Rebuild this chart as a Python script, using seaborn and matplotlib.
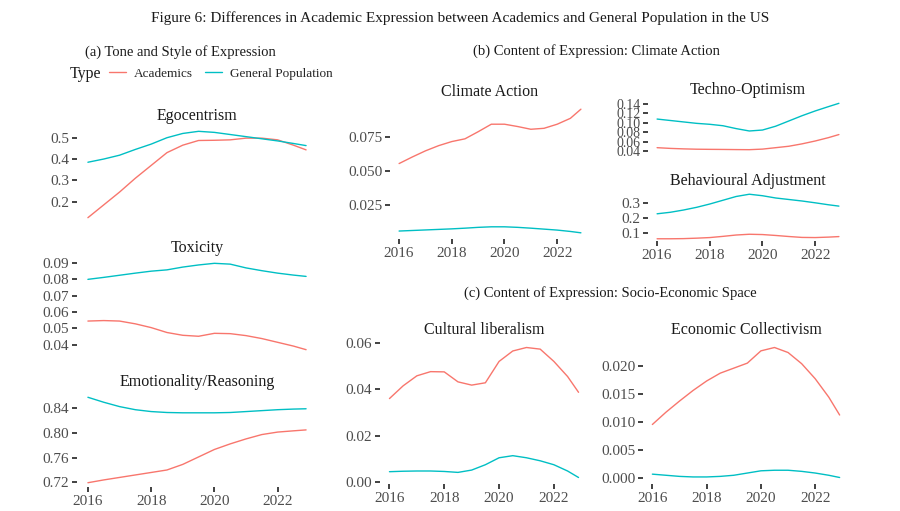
import numpy as np
import pandas as pd
import seaborn as sns
import matplotlib.pyplot as plt
from matplotlib.lines import Line2D
from matplotlib.ticker import FormatStrFormatter

# values at half-year steps (smoothed trends)
years = [2016, 2016.5, 2017, 2017.5, 2018, 2018.5, 2019, 2019.5,
         2020, 2020.5, 2021, 2021.5, 2022, 2022.5, 2022.9]

ego_acad = [0.125, 0.185, 0.245, 0.31, 0.37, 0.43, 0.465, 0.487,
            0.488, 0.49, 0.498, 0.498, 0.49, 0.465, 0.443]
ego_gen = [0.385, 0.40, 0.418, 0.445, 0.47, 0.50, 0.52, 0.53,
           0.525, 0.515, 0.505, 0.495, 0.485, 0.473, 0.463]

tox_acad = [0.0545, 0.0548, 0.0545, 0.0528, 0.0505, 0.0475, 0.0458, 0.0452,
            0.047, 0.0468, 0.0456, 0.0438, 0.0415, 0.0392, 0.037]
tox_gen = [0.080, 0.0812, 0.0825, 0.0838, 0.0850, 0.0858, 0.0875, 0.0888,
           0.0898, 0.0893, 0.0870, 0.0853, 0.0838, 0.0826, 0.0818]

emo_acad = [0.7195, 0.724, 0.728, 0.732, 0.736, 0.740, 0.749, 0.761,
            0.773, 0.782, 0.790, 0.797, 0.801, 0.803, 0.8045]
emo_gen = [0.857, 0.849, 0.842, 0.837, 0.834, 0.8325, 0.832, 0.832,
           0.832, 0.8325, 0.834, 0.8355, 0.837, 0.838, 0.8385]

clim_acad = [0.0557, 0.0605, 0.065, 0.0688, 0.0718, 0.0738, 0.079, 0.0845,
             0.0845, 0.0828, 0.0808, 0.0815, 0.0845, 0.0888, 0.0955]
clim_gen = [0.0063, 0.0067, 0.0071, 0.0075, 0.0079, 0.0084, 0.009, 0.0094,
            0.0094, 0.009, 0.0084, 0.0077, 0.007, 0.006, 0.005]

techno_acad = [0.048, 0.0465, 0.0455, 0.0448, 0.0445, 0.0443, 0.044, 0.0438,
               0.045, 0.048, 0.051, 0.056, 0.062, 0.069, 0.0755]
techno_gen = [0.108, 0.105, 0.102, 0.099, 0.097, 0.094, 0.088, 0.083,
              0.085, 0.093, 0.104, 0.115, 0.125, 0.134, 0.141]

behav_acad = [0.059, 0.059, 0.06, 0.063, 0.067, 0.075, 0.084, 0.089,
              0.087, 0.081, 0.074, 0.068, 0.067, 0.07, 0.0735]
behav_gen = [0.225, 0.235, 0.25, 0.268, 0.29, 0.315, 0.34, 0.355,
             0.345, 0.33, 0.32, 0.31, 0.298, 0.285, 0.276]

cult_acad = [0.036, 0.0415, 0.0458, 0.0476, 0.0475, 0.0432, 0.0418, 0.0428,
             0.052, 0.0565, 0.058, 0.0573, 0.052, 0.0455, 0.0387]
cult_gen = [0.0045, 0.0047, 0.0048, 0.0048, 0.0046, 0.0042, 0.0052, 0.0075,
            0.0105, 0.0114, 0.0105, 0.0092, 0.0075, 0.0048, 0.002]

econ_acad = [0.0096, 0.0118, 0.0138, 0.0157, 0.0174, 0.0188, 0.0197, 0.0206,
             0.0228, 0.0234, 0.0225, 0.0205, 0.0178, 0.0145, 0.0113]
econ_gen = [0.0007, 0.0005, 0.0003, 0.0002, 0.0002, 0.0003, 0.0005, 0.0009,
            0.0013, 0.0014, 0.0014, 0.0012, 0.0009, 0.0005, 0.0001]

types = ["Academics", "General Population"]
palette = {"Academics": "#F8766D", "General Population": "#00BFC4"}

sns.set_theme(style="white")
plt.rcParams["font.family"] = ["Liberation Serif", "DejaVu Serif"]

W, H = 900, 511
fig = plt.figure(figsize=(9, 5.11), dpi=100)
fig.patch.set_facecolor("white")


def add_px_axes(x0, y0, x1, y1):
    return fig.add_axes([x0 / W, 1 - y1 / H, (x1 - x0) / W, (y1 - y0) / H])


def long_frame(acad, gen):
    return pd.DataFrame({
        "Year": years * 2,
        "Value": acad + gen,
        "Type": ["Academics"] * len(years) + ["General Population"] * len(years),
    })


def facet(box, title, acad, gen, yticks, fmt, show_x, tick_size=11):
    ax = add_px_axes(*box)
    df = long_frame(acad, gen)
    sns.lineplot(data=df, x="Year", y="Value", hue="Type", palette=palette,
                 hue_order=types, linewidth=1.0, legend=False, ax=ax)
    span = years[-1] - years[0]
    ax.set_xlim(years[0] - 0.05 * span, years[-1] + 0.05 * span)
    lo, hi = df["Value"].min(), df["Value"].max()
    ax.set_ylim(lo - 0.05 * (hi - lo), hi + 0.05 * (hi - lo))
    ax.set_yticks(yticks)
    ax.yaxis.set_major_formatter(FormatStrFormatter(fmt))
    if show_x:
        ax.set_xticks([2016, 2018, 2020, 2022])
    else:
        ax.set_xticks([])
    ax.set_xlabel("")
    ax.set_ylabel("")
    for s in ax.spines.values():
        s.set_visible(False)
    ax.tick_params(axis="both", length=3.5, width=1.3, color="#333333",
                   labelcolor="#4d4d4d", labelsize=11, pad=2,
                   left=True, bottom=show_x)
    ax.tick_params(axis="y", labelsize=tick_size)
    ax.set_title(title, fontsize=11.5, color="#1a1a1a", pad=5)
    return ax


# (a) tone and style
facet((77, 127, 317, 222), "Egocentrism", ego_acad, ego_gen,
      [0.2, 0.3, 0.4, 0.5], "%.1f", False)
facet((77, 259, 317, 354), "Toxicity", tox_acad, tox_gen,
      [0.04, 0.05, 0.06, 0.07, 0.08, 0.09], "%.2f", False)
facet((77, 393, 317, 487), "Emotionality/Reasoning", emo_acad, emo_gen,
      [0.72, 0.76, 0.80, 0.84], "%.2f", True)

# (b) climate action
facet((390, 103, 590, 239), "Climate Action", clim_acad, clim_gen,
      [0.025, 0.050, 0.075], "%.3f", True)
# the reference squeezes these labels together; keep them slightly smaller
facet((648, 101, 848, 152), "Techno-Optimism", techno_acad, techno_gen,
      [0.04, 0.06, 0.08, 0.10, 0.12, 0.14], "%.2f", False, tick_size=10)
facet((648, 192, 848, 241), "Behavioural Adjustment", behav_acad, behav_gen,
      [0.1, 0.2, 0.3], "%.1f", True)

# (c) socio-economic space
facet((380, 341, 588, 484), "Cultural liberalism", cult_acad, cult_gen,
      [0.00, 0.02, 0.04, 0.06], "%.2f", True)
facet((643, 341, 849, 484), "Economic Collectivism", econ_acad, econ_gen,
      [0.000, 0.005, 0.010, 0.015, 0.020], "%.3f", True)

# headings
fig.text(460 / W, 1 - 18 / H,
         "Figure 6: Differences in Academic Expression between Academics and General Population in the US",
         ha="center", va="center", fontsize=11, color="#1a1a1a")
fig.text(180 / W, 1 - 52 / H, "(a) Tone and Style of Expression",
         ha="center", va="center", fontsize=10.5, color="#1a1a1a")
fig.text(596 / W, 1 - 51 / H, "(b) Content of Expression: Climate Action",
         ha="center", va="center", fontsize=10.5, color="#1a1a1a")
fig.text(610 / W, 1 - 293 / H, "(c) Content of Expression: Socio-Economic Space",
         ha="center", va="center", fontsize=10.5, color="#1a1a1a")

# legend
handles = [Line2D([0], [0], color=palette[t], lw=1.0) for t in types]
fig.text(70 / W, 1 - 74 / H, "Type", ha="left", va="center",
         fontsize=11.5, color="#1a1a1a")
fig.legend(handles, types, loc="center left", bbox_to_anchor=(109 / W, 1 - 74 / H),
           ncol=2, frameon=False, fontsize=9.5, handlelength=1.3,
           handletextpad=0.6, columnspacing=0.9, borderaxespad=0, borderpad=0)

fig.savefig("out.png", dpi=100, facecolor="white")
